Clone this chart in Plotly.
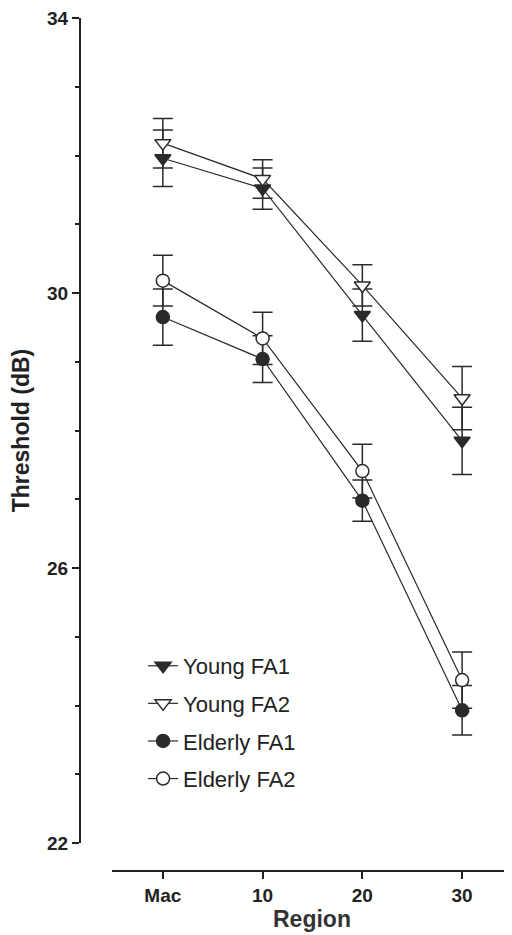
import plotly.graph_objects as go

regions = ["Mac", "10", "20", "30"]
x_pos = [0, 1, 2, 3]

young_fa1 = [31.96, 31.52, 29.68, 27.85]
young_fa1_err = [0.41, 0.30, 0.38, 0.49]
young_fa2 = [32.18, 31.66, 30.11, 28.47]
young_fa2_err = [0.36, 0.28, 0.30, 0.46]
elderly_fa1 = [29.65, 29.04, 26.98, 23.93]
elderly_fa1_err = [0.41, 0.34, 0.30, 0.36]
elderly_fa2 = [30.18, 29.34, 27.41, 24.37]
elderly_fa2_err = [0.37, 0.38, 0.39, 0.41]

dark = "#2a2a2a"
font_family = "Arial, 'Liberation Sans', sans-serif"

series = [
    ("Young FA1", young_fa1, young_fa1_err, "triangle-down", dark),
    ("Young FA2", young_fa2, young_fa2_err, "triangle-down", "white"),
    ("Elderly FA1", elderly_fa1, elderly_fa1_err, "circle", dark),
    ("Elderly FA2", elderly_fa2, elderly_fa2_err, "circle", "white"),
]

fig = go.Figure()
for i, (name, vals, errs, sym, fill) in enumerate(series):
    fig.add_trace(go.Scatter(
        x=x_pos, y=vals, name=name, mode="lines+markers",
        legendgroup=f"g{i}",
        line=dict(color=dark, width=1.2),
        marker=dict(symbol=sym, size=14 if "triangle" in sym else 13,
                    color=fill, line=dict(color=dark, width=1.5)),
        error_y=dict(type="data", array=errs, visible=True, color=dark,
                     thickness=1.5, width=10),
    ))

# page body has an 8px default margin, so the figure is 504x927
fig.update_layout(
    width=504, height=927,
    margin=dict(l=72, r=0, t=10, b=64, autoexpand=False),
    paper_bgcolor="white", plot_bgcolor="white",
    font=dict(family=font_family, color="#222"),
    showlegend=True,
    legend=dict(x=0.146, y=0.265, xanchor="left", yanchor="top",
                font=dict(size=22, family=font_family, color="#222"),
                bgcolor="rgba(0,0,0,0)", traceorder="grouped",
                tracegroupgap=6, itemwidth=30),
    xaxis=dict(
        domain=[0.074, 1], range=[-0.51, 3.5],
        anchor="free", position=0, automargin=False,
        ticklabeloverflow="allow",
        tickvals=x_pos, ticktext=regions,
        showline=True, linecolor="#222", linewidth=2,
        ticks="outside", ticklen=7, tickwidth=2, tickcolor="#222",
        tickfont=dict(size=19, family=font_family, color="#222", weight="bold"),
        showgrid=False, zeroline=False,
        title=dict(text="<b>Region</b>", font=dict(size=23, family=font_family, color="#333"),
                   standoff=0),
    ),
    yaxis=dict(
        domain=[0.0328, 1], range=[22, 34],
        anchor="free", position=0, automargin=False,
        ticklabeloverflow="allow",
        tickvals=[22, 26, 30, 34],
        showline=True, linecolor="#222", linewidth=2,
        ticks="outside", ticklen=7, tickwidth=2, tickcolor="#222",
        minor=dict(dtick=1, ticks="outside", ticklen=4, tickwidth=2, tickcolor="#222"),
        tickfont=dict(size=19, family=font_family, color="#222", weight="bold"),
        showgrid=False, zeroline=False,
        title=dict(text="<b>Threshold (dB)</b>", font=dict(size=23, family=font_family, color="#222"),
                   standoff=12),
    ),
)

fig.write_html("out.html")
